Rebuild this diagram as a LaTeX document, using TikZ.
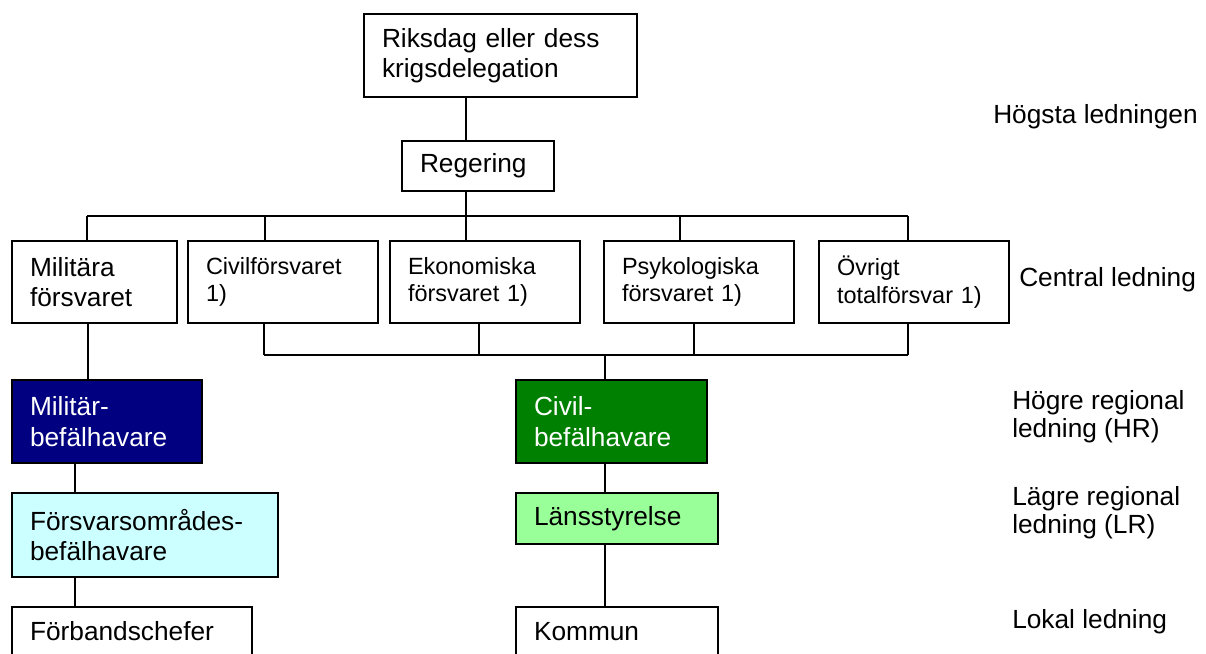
\documentclass[tikz,border=0pt]{standalone}
\usepackage{fontspec}
\setmainfont{Liberation Sans}
\definecolor{milblue}{HTML}{000080}
\definecolor{civgreen}{HTML}{008000}
\definecolor{lansgreen}{HTML}{99FF99}
\definecolor{fobcyan}{HTML}{CCFFFF}
\newcommand{\orgbig}{\fontsize{19.7}{22.9}\selectfont}
\newcommand{\orgsmall}{\fontsize{17.6}{20.5}\selectfont}
\tikzset{
  orgbox/.style={draw, line width=1.5pt, inner xsep=13.5pt, inner ysep=0pt, align=left, font=\orgbig},
  link/.style={line width=1pt},
  levellabel/.style={inner sep=0pt, align=left, font=\fontsize{19.7}{21.2}\selectfont}
}
\begin{document}
\begin{tikzpicture}[x=0.75pt,y=-0.75pt]
  \useasboundingbox (0,0) rectangle (1206,653);
  \clip (0,0) rectangle (1206,653);
  \node[orgbox, text width=177.75pt, minimum height=62.25pt] (riks) at (500.5,55.5) {Riksdag eller dess\\krigsdelegation};
  \node[orgbox, text width=87pt, minimum height=37.5pt] (reg) at (478,166) {Regering};
  \node[orgbox, text width=96.75pt, minimum height=61.5pt] (mil) at (94.5,282) {Militära\\försvaret};
  \node[orgbox, font=\orgsmall, text width=115.5pt, minimum height=61.5pt] (civ) at (283,282) {Civilförsvaret\\1)};
  \node[orgbox, font=\orgsmall, text width=115.5pt, minimum height=61.5pt] (eko) at (485,282) {Ekonomiska\\försvaret 1)};
  \node[orgbox, font=\orgsmall, text width=115.5pt, minimum height=61.5pt] (psy) at (699,282) {Psykologiska\\försvaret 1)};
  \node[orgbox, font=\orgsmall, text width=115.5pt, minimum height=61.5pt] (ovr) at (914,282) {Övrigt\\totalförsvar 1)};
  \node[orgbox, fill=milblue, text=white, text width=115.5pt, minimum height=62.25pt] (mbh) at (107,421.5) {Militär-\\befälhavare};
  \node[orgbox, fill=fobcyan, text width=172.5pt, minimum height=63pt] (fob) at (145,535) {Försvarsområdes-\\befälhavare};
  \node[orgbox, text width=153pt, minimum height=36.75pt] (fch) at (132,631.5) {Förbandschefer};
  \node[orgbox, fill=civgreen, text=white, text width=116.25pt, minimum height=62.25pt] (cbh) at (611.5,421.5) {Civil-\\befälhavare};
  \node[orgbox, fill=lansgreen, text width=124.5pt, minimum height=38.25pt] (lst) at (617,518.5) {Länsstyrelse};
  \node[orgbox, text width=124.5pt, minimum height=36.75pt] (kom) at (617,631.5) {Kommun};

  \coordinate (upbus) at (466,216);
  \coordinate (lowbus) at (605,355);
  \draw[link] (riks.south -| upbus) -- (reg.north -| upbus);
  \draw[link] (reg.south -| upbus) -- (upbus);
  \draw[link] (87,0 |- upbus) -- (908,0 |- upbus);
  \foreach \n/\x in {mil/87,civ/265,eko/466,psy/680,ovr/908}
    \draw[link] (\x,0 |- upbus) -- (\n.north -| \x,0);
  \draw[link] (264,0 |- lowbus) -- (908,0 |- lowbus);
  \foreach \n/\x in {civ/264,eko/479,psy/694,ovr/908}
    \draw[link] (\n.south -| \x,0) -- (\x,0 |- lowbus);
  \draw[link] (lowbus) -- (cbh.north -| lowbus);
  \draw[link] (cbh.south -| lowbus) -- (lst.north -| lowbus);
  \draw[link] (lst.south -| lowbus) -- (kom.north -| lowbus);
  \draw[link] (mil.south -| 88,0) -- (mbh.north -| 88,0);
  \draw[link] (mbh.south -| 75,0) -- (fob.north -| 75,0);
  \draw[link] (fob.south -| 75,0) -- (fch.north -| 75,0);

  \node[levellabel, anchor=base west] (hogsta) at (993,123) {Högsta ledningen};
  \node[levellabel, anchor=base west] (central) at (1019,286) {Central ledning};
  \node[levellabel, anchor=west] (hogre) at (1012,417) {Högre regional\\ledning (HR)};
  \node[levellabel, anchor=west] (lagre) at (1012,512.5) {Lägre regional\\ledning (LR)};
  \node[levellabel, anchor=base west] (lokal) at (1012,628) {Lokal ledning};
\end{tikzpicture}
\end{document}
